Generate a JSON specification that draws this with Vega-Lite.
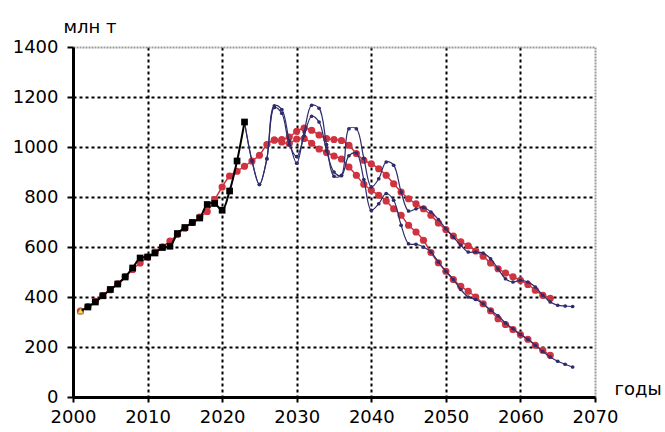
{
  "$schema": "https://vega.github.io/schema/vega-lite/v6.json",
  "width": 522,
  "height": 350,
  "autosize": "none",
  "padding": {"left": 73, "top": 47, "right": 70, "bottom": 35},
  "background": "white",
  "config": {
    "view": {"stroke": null},
    "font": "DejaVu Sans",
    "axis": {"labelFont": "DejaVu Sans", "titleFont": "DejaVu Sans", "labelFontSize": 18, "titleFontSize": 18, "labelColor": "black", "titleColor": "black", "titleFontWeight": "normal"}
  },
  "datasets": {
    "hist": [
      {"x": 2001, "y": 344}, {"x": 2002, "y": 360}, {"x": 2003, "y": 380}, {"x": 2004, "y": 405}, {"x": 2005, "y": 430},
      {"x": 2006, "y": 452}, {"x": 2007, "y": 480}, {"x": 2008, "y": 516}, {"x": 2009, "y": 556}, {"x": 2010, "y": 560},
      {"x": 2011, "y": 576}, {"x": 2012, "y": 598}, {"x": 2013, "y": 603}, {"x": 2014, "y": 654}, {"x": 2015, "y": 678},
      {"x": 2016, "y": 698}, {"x": 2017, "y": 716}, {"x": 2018, "y": 770}, {"x": 2019, "y": 774}, {"x": 2020, "y": 747},
      {"x": 2021, "y": 824}, {"x": 2022, "y": 944}, {"x": 2023, "y": 1100}
    ],
    "first": [{"x": 2001, "y": 344}],
    "red": [
      {"s": "RU", "x": 2001, "y": 344}, {"s": "RU", "x": 2002, "y": 362}, {"s": "RU", "x": 2003, "y": 383}, {"s": "RU", "x": 2004, "y": 406},
      {"s": "RU", "x": 2005, "y": 429}, {"s": "RU", "x": 2006, "y": 453}, {"s": "RU", "x": 2007, "y": 482}, {"s": "RU", "x": 2008, "y": 510},
      {"s": "RU", "x": 2009, "y": 536}, {"s": "RU", "x": 2010, "y": 560}, {"s": "RU", "x": 2011, "y": 580}, {"s": "RU", "x": 2012, "y": 601},
      {"s": "RU", "x": 2013, "y": 624}, {"s": "RU", "x": 2014, "y": 650}, {"s": "RU", "x": 2015, "y": 675}, {"s": "RU", "x": 2016, "y": 698},
      {"s": "RU", "x": 2017, "y": 720}, {"s": "RU", "x": 2018, "y": 742}, {"s": "RU", "x": 2019, "y": 790}, {"s": "RU", "x": 2020, "y": 840},
      {"s": "RU", "x": 2021, "y": 884}, {"s": "RU", "x": 2022, "y": 903}, {"s": "RU", "x": 2023, "y": 923}, {"s": "RU", "x": 2024, "y": 944},
      {"s": "RU", "x": 2025, "y": 967}, {"s": "RU", "x": 2026, "y": 1010}, {"s": "RU", "x": 2027, "y": 1028}, {"s": "RU", "x": 2028, "y": 1030},
      {"s": "RU", "x": 2029, "y": 1040}, {"s": "RU", "x": 2030, "y": 1063}, {"s": "RU", "x": 2031, "y": 1076}, {"s": "RU", "x": 2032, "y": 1067},
      {"s": "RU", "x": 2033, "y": 1048}, {"s": "RU", "x": 2034, "y": 1034}, {"s": "RU", "x": 2035, "y": 1030}, {"s": "RU", "x": 2036, "y": 1026},
      {"s": "RU", "x": 2037, "y": 1007}, {"s": "RU", "x": 2038, "y": 974}, {"s": "RU", "x": 2039, "y": 947}, {"s": "RU", "x": 2040, "y": 933},
      {"s": "RU", "x": 2041, "y": 913}, {"s": "RU", "x": 2042, "y": 887}, {"s": "RU", "x": 2043, "y": 853}, {"s": "RU", "x": 2044, "y": 820},
      {"s": "RU", "x": 2045, "y": 793}, {"s": "RU", "x": 2046, "y": 773}, {"s": "RU", "x": 2047, "y": 753}, {"s": "RU", "x": 2048, "y": 727},
      {"s": "RU", "x": 2049, "y": 696}, {"s": "RU", "x": 2050, "y": 670}, {"s": "RU", "x": 2051, "y": 644}, {"s": "RU", "x": 2052, "y": 621},
      {"s": "RU", "x": 2053, "y": 605}, {"s": "RU", "x": 2054, "y": 584}, {"s": "RU", "x": 2055, "y": 563}, {"s": "RU", "x": 2056, "y": 536},
      {"s": "RU", "x": 2057, "y": 513}, {"s": "RU", "x": 2058, "y": 496}, {"s": "RU", "x": 2059, "y": 481}, {"s": "RU", "x": 2060, "y": 467},
      {"s": "RU", "x": 2061, "y": 450}, {"s": "RU", "x": 2062, "y": 427}, {"s": "RU", "x": 2063, "y": 407}, {"s": "RU", "x": 2064, "y": 395},
      {"s": "RL", "x": 2027, "y": 1028}, {"s": "RL", "x": 2028, "y": 1020}, {"s": "RL", "x": 2029, "y": 1014}, {"s": "RL", "x": 2030, "y": 1032},
      {"s": "RL", "x": 2031, "y": 1034}, {"s": "RL", "x": 2032, "y": 1015}, {"s": "RL", "x": 2033, "y": 992}, {"s": "RL", "x": 2034, "y": 978},
      {"s": "RL", "x": 2035, "y": 964}, {"s": "RL", "x": 2036, "y": 952}, {"s": "RL", "x": 2037, "y": 920}, {"s": "RL", "x": 2038, "y": 887},
      {"s": "RL", "x": 2039, "y": 851}, {"s": "RL", "x": 2040, "y": 827}, {"s": "RL", "x": 2041, "y": 807}, {"s": "RL", "x": 2042, "y": 784},
      {"s": "RL", "x": 2043, "y": 753}, {"s": "RL", "x": 2044, "y": 727}, {"s": "RL", "x": 2045, "y": 687}, {"s": "RL", "x": 2046, "y": 660},
      {"s": "RL", "x": 2047, "y": 627}, {"s": "RL", "x": 2048, "y": 578}, {"s": "RL", "x": 2049, "y": 537}, {"s": "RL", "x": 2050, "y": 503},
      {"s": "RL", "x": 2051, "y": 470}, {"s": "RL", "x": 2052, "y": 443}, {"s": "RL", "x": 2053, "y": 423}, {"s": "RL", "x": 2054, "y": 400},
      {"s": "RL", "x": 2055, "y": 373}, {"s": "RL", "x": 2056, "y": 345}, {"s": "RL", "x": 2057, "y": 313}, {"s": "RL", "x": 2058, "y": 290},
      {"s": "RL", "x": 2059, "y": 270}, {"s": "RL", "x": 2060, "y": 250}, {"s": "RL", "x": 2061, "y": 231}, {"s": "RL", "x": 2062, "y": 207},
      {"s": "RL", "x": 2063, "y": 187}, {"s": "RL", "x": 2064, "y": 167}
    ],
    "blue": [
      {"s": "BU", "x": 2023, "y": 1100}, {"s": "BU", "x": 2024, "y": 945}, {"s": "BU", "x": 2025, "y": 850}, {"s": "BU", "x": 2026, "y": 953},
      {"s": "BU", "x": 2027, "y": 1165}, {"s": "BU", "x": 2028, "y": 1150}, {"s": "BU", "x": 2029, "y": 1025}, {"s": "BU", "x": 2030, "y": 935},
      {"s": "BU", "x": 2031, "y": 1060}, {"s": "BU", "x": 2032, "y": 1167}, {"s": "BU", "x": 2033, "y": 1155}, {"s": "BU", "x": 2034, "y": 1010},
      {"s": "BU", "x": 2035, "y": 883}, {"s": "BU", "x": 2036, "y": 887}, {"s": "BU", "x": 2037, "y": 1073}, {"s": "BU", "x": 2038, "y": 1073},
      {"s": "BU", "x": 2039, "y": 955}, {"s": "BU", "x": 2040, "y": 840}, {"s": "BU", "x": 2041, "y": 873}, {"s": "BU", "x": 2042, "y": 940},
      {"s": "BU", "x": 2043, "y": 927}, {"s": "BU", "x": 2044, "y": 820}, {"s": "BU", "x": 2045, "y": 744}, {"s": "BU", "x": 2046, "y": 753},
      {"s": "BU", "x": 2047, "y": 758}, {"s": "BU", "x": 2048, "y": 740}, {"s": "BU", "x": 2049, "y": 710}, {"s": "BU", "x": 2050, "y": 673},
      {"s": "BU", "x": 2051, "y": 640}, {"s": "BU", "x": 2052, "y": 607}, {"s": "BU", "x": 2053, "y": 580}, {"s": "BU", "x": 2054, "y": 580},
      {"s": "BU", "x": 2055, "y": 576}, {"s": "BU", "x": 2056, "y": 553}, {"s": "BU", "x": 2057, "y": 513}, {"s": "BU", "x": 2058, "y": 473},
      {"s": "BU", "x": 2059, "y": 460}, {"s": "BU", "x": 2060, "y": 467}, {"s": "BU", "x": 2061, "y": 460}, {"s": "BU", "x": 2062, "y": 440},
      {"s": "BU", "x": 2063, "y": 407}, {"s": "BU", "x": 2064, "y": 380}, {"s": "BU", "x": 2065, "y": 367}, {"s": "BU", "x": 2066, "y": 364},
      {"s": "BU", "x": 2067, "y": 362},
      {"s": "BL", "x": 2023, "y": 1100}, {"s": "BL", "x": 2024, "y": 945}, {"s": "BL", "x": 2025, "y": 850}, {"s": "BL", "x": 2026, "y": 953},
      {"s": "BL", "x": 2027, "y": 1158}, {"s": "BL", "x": 2028, "y": 1135}, {"s": "BL", "x": 2029, "y": 1010}, {"s": "BL", "x": 2030, "y": 962},
      {"s": "BL", "x": 2031, "y": 1045}, {"s": "BL", "x": 2032, "y": 1123}, {"s": "BL", "x": 2033, "y": 1100}, {"s": "BL", "x": 2034, "y": 985},
      {"s": "BL", "x": 2035, "y": 900}, {"s": "BL", "x": 2036, "y": 885}, {"s": "BL", "x": 2037, "y": 965}, {"s": "BL", "x": 2038, "y": 976},
      {"s": "BL", "x": 2039, "y": 870}, {"s": "BL", "x": 2040, "y": 747}, {"s": "BL", "x": 2041, "y": 773}, {"s": "BL", "x": 2042, "y": 814},
      {"s": "BL", "x": 2043, "y": 787}, {"s": "BL", "x": 2044, "y": 687}, {"s": "BL", "x": 2045, "y": 613}, {"s": "BL", "x": 2046, "y": 611},
      {"s": "BL", "x": 2047, "y": 600}, {"s": "BL", "x": 2048, "y": 580}, {"s": "BL", "x": 2049, "y": 540}, {"s": "BL", "x": 2050, "y": 503},
      {"s": "BL", "x": 2051, "y": 470}, {"s": "BL", "x": 2052, "y": 430}, {"s": "BL", "x": 2053, "y": 400}, {"s": "BL", "x": 2054, "y": 390},
      {"s": "BL", "x": 2055, "y": 373}, {"s": "BL", "x": 2056, "y": 347}, {"s": "BL", "x": 2057, "y": 325}, {"s": "BL", "x": 2058, "y": 296},
      {"s": "BL", "x": 2059, "y": 273}, {"s": "BL", "x": 2060, "y": 250}, {"s": "BL", "x": 2061, "y": 231}, {"s": "BL", "x": 2062, "y": 207},
      {"s": "BL", "x": 2063, "y": 182}, {"s": "BL", "x": 2064, "y": 160}, {"s": "BL", "x": 2065, "y": 143}, {"s": "BL", "x": 2066, "y": 131},
      {"s": "BL", "x": 2067, "y": 120}
    ]
  },
  "encoding": {
    "x": {
      "field": "x", "type": "quantitative",
      "scale": {"domain": [2000, 2070], "nice": false, "zero": false},
      "axis": {
        "title": "годы", "titleX": 541, "titleY": -3, "titleAlign": "left", "titleBaseline": "alphabetic", "titleAngle": 0,
        "values": [2000, 2010, 2020, 2030, 2040, 2050, 2060, 2070], "format": "d", "labelFlush": false, "labelOverlap": false,
        "domainColor": "black", "domainWidth": 3, "tickColor": "black", "tickWidth": 2, "tickSize": 5, "labelPadding": 6,
        "grid": true,
        "gridColor": {"condition": {"test": "datum.value == 2070", "value": "#9a9a9a"}, "value": "black"},
        "gridDash": {"condition": {"test": "datum.value == 2070", "value": [2, 1]}, "value": [3, 3]},
        "gridWidth": 2
      }
    },
    "y": {
      "field": "y", "type": "quantitative",
      "scale": {"domain": [0, 1400], "nice": false},
      "axis": {
        "title": "млн т", "titleX": -10, "titleY": -15, "titleAlign": "left", "titleBaseline": "alphabetic", "titleAngle": 0,
        "values": [0, 200, 400, 600, 800, 1000, 1200, 1400], "format": "d", "labelFlush": false, "labelOverlap": false,
        "domainColor": "black", "domainWidth": 3, "tickColor": "black", "tickWidth": 2, "tickSize": 6, "labelPadding": 9,
        "grid": true,
        "gridColor": {"condition": {"test": "datum.value == 1400", "value": "#9a9a9a"}, "value": "black"},
        "gridDash": {"condition": {"test": "datum.value == 1400", "value": [2, 1]}, "value": [3, 3]},
        "gridWidth": 2
      }
    }
  },
  "layer": [
    {"data": {"name": "red"}, "mark": {"type": "line", "color": "#cf3340", "strokeWidth": 1.5, "interpolate": "catmull-rom"}, "encoding": {"detail": {"field": "s"}}},
    {"data": {"name": "red"}, "mark": {"type": "circle", "color": "#cf3340", "opacity": 1, "size": 52}},
    {"data": {"name": "blue"}, "mark": {"type": "line", "color": "#2e2c6c", "strokeWidth": 1.2, "interpolate": "catmull-rom"}, "encoding": {"detail": {"field": "s"}}},
    {"data": {"name": "blue"}, "mark": {"type": "circle", "color": "#2e2c6c", "opacity": 1, "size": 14}},
    {"data": {"name": "hist"}, "mark": {"type": "line", "color": "black", "strokeWidth": 2, "interpolate": "catmull-rom"}},
    {"data": {"name": "hist"}, "transform": [{"filter": "datum.x >= 2002"}], "mark": {"type": "square", "color": "black", "opacity": 1, "size": 45}},
    {"data": {"name": "first"}, "mark": {"type": "point", "shape": "triangle-up", "filled": true, "fill": "#f2e43a", "stroke": "#8a8a50", "strokeWidth": 0.8, "opacity": 1, "size": 40}}
  ]
}
